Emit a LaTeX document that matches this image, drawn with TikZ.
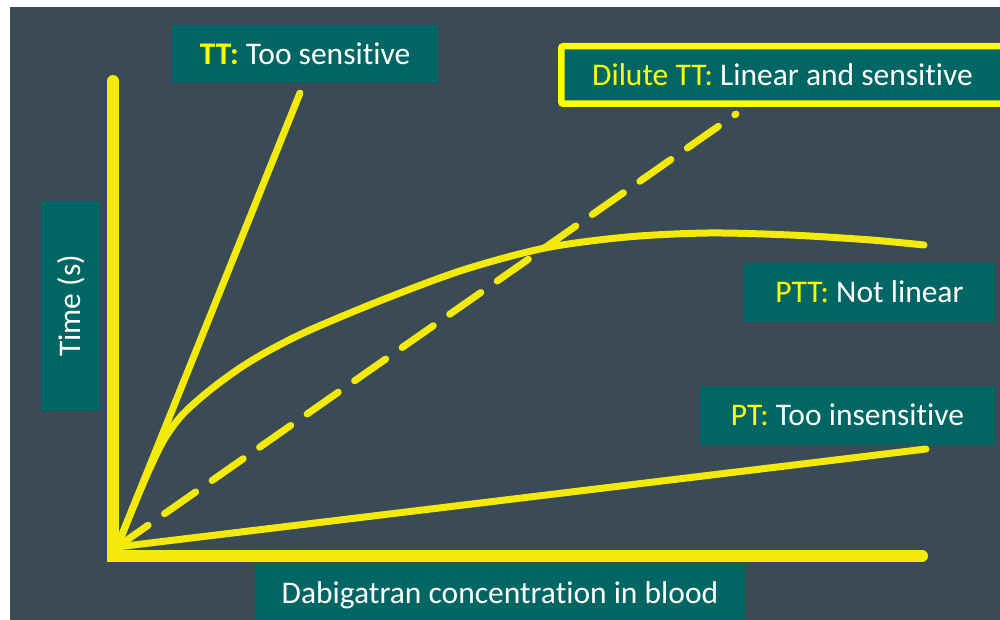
\documentclass[tikz,border=0pt]{standalone}
\usepackage{fontspec}
\setmainfont{Carlito}[Ligatures=NoCommon]
\definecolor{bgslate}{RGB}{58,75,86}
\definecolor{boxteal}{RGB}{0,102,99}
\definecolor{lineyellow}{RGB}{243,234,10}
\definecolor{txtyellow}{RGB}{255,255,0}
\begin{document}
\begin{tikzpicture}[x=1pt,y=-1pt,
  labelbox/.style={fill=boxteal, inner sep=0pt, text=white,
    font=\fontsize{31.5}{36}\selectfont, text height=20.3pt, text depth=0pt},
  curve/.style={draw=lineyellow, line width=7pt, line cap=round, line join=round},
  axisline/.style={draw=lineyellow, line width=12pt, line cap=round, line join=miter}]
\useasboundingbox (0,0) rectangle (1000,620);
\fill[white] (0,0) rectangle (1000,620);
\clip (0,0) rectangle (1000,620);
\fill[bgslate] (10,7) rectangle (1000,620);

% key points
\coordinate (O) at (117,547);
\coordinate (ytop) at (113,81);
\coordinate (corner) at (113,556);
\coordinate (xend) at (922,556);
\coordinate (ttend) at (300,93);
\coordinate (dtend) at (736,114);
\coordinate (pttend) at (924,245);
\coordinate (ptend) at (926,449);

% axes
\draw[axisline] (ytop) -- (corner) -- (xend);

% curves
\draw[curve] (O) -- (ptend);
\draw[curve, dash pattern=on 38pt off 20pt] (O) -- (dtend);
\draw[curve] plot[smooth, tension=0.5] coordinates {(O) (135,503) (150,468) (165,438)
  (183,414) (210,390) (240,368) (270,350) (310,330) (382,300) (463,270) (545,248)
  (627,237) (708,233) (790,235) (871,240) (pttend)};
\draw[curve] (O) -- (ttend);

% labels
\node[labelbox, minimum width=266pt, minimum height=58pt] (tt) at (305,54)
  {{\bfseries\color{txtyellow}TT:} Too sensitive};
\node[labelbox, draw=txtyellow, line width=6.5pt, rounded corners=2pt,
  minimum width=442.5pt, minimum height=57.5pt] (dil) at (782.5,75)
  {{\color{txtyellow}Dilute TT:} Linear and sensitive};
\node[labelbox, rotate=90, minimum width=210pt, minimum height=59pt] (time) at (70.5,306)
  {Time (s)};
\node[labelbox, minimum width=251pt, minimum height=59pt] (ptt) at (869.5,292.5)
  {{\color{txtyellow}PTT:} Not linear};
\node[labelbox, minimum width=295pt, minimum height=59pt] (pt) at (847.5,415.5)
  {{\color{txtyellow}PT:} Too insensitive};
\node[labelbox, minimum width=490pt, minimum height=60pt] (dab) at (500,593)
  {Dabigatran concentration in blood};
\end{tikzpicture}
\end{document}
